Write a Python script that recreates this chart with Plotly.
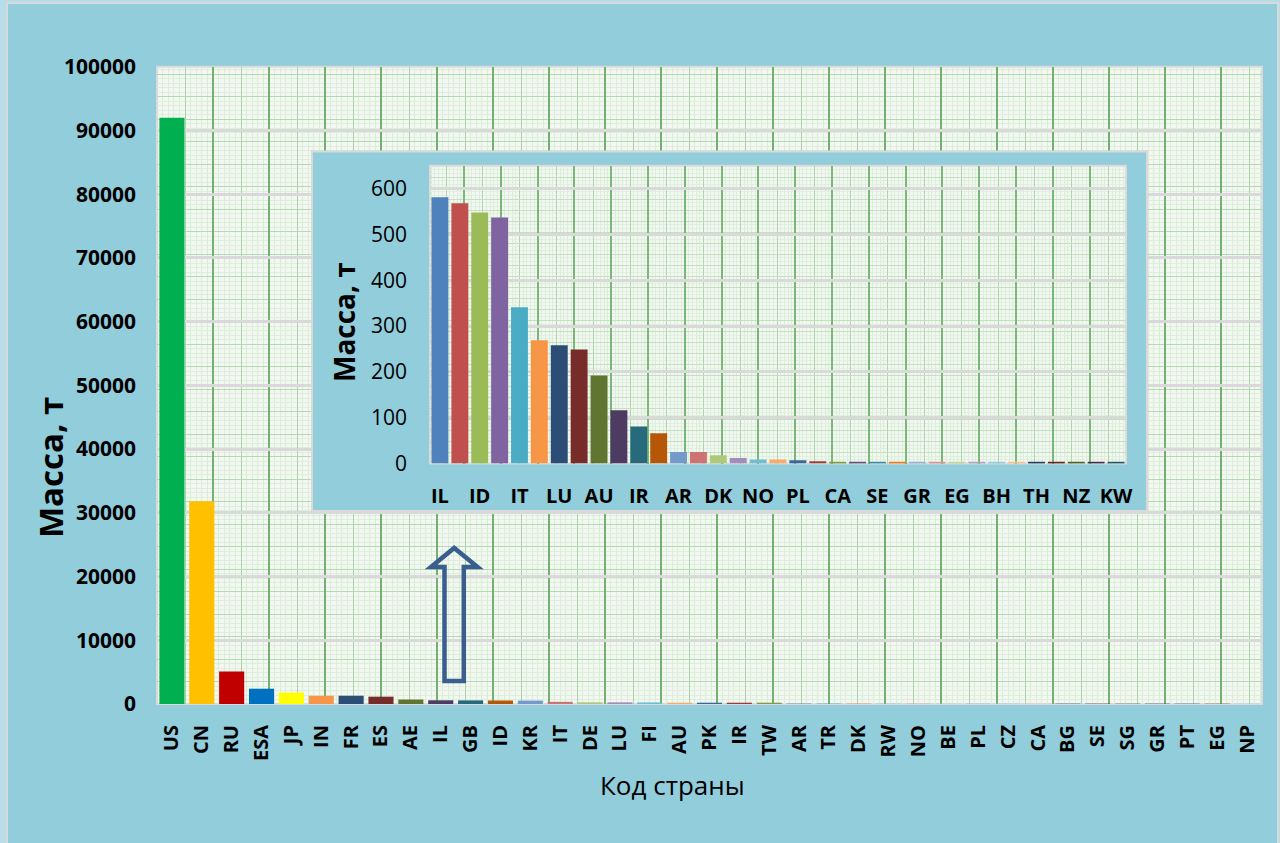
import plotly.graph_objects as go

# ---------------------------------------------------------------- data
country_codes = ["US", "CN", "RU", "ESA", "JP", "IN", "FR", "ES", "AE", "IL", "GB", "ID",
                 "KR", "IT", "DE", "LU", "FI", "AU", "PK", "IR", "TW", "AR", "TR", "DK",
                 "RW", "NO", "BE", "PL", "CZ", "CA", "BG", "SE", "SG", "GR", "PT", "EG", "NP"]
mass_t = [92000, 31800, 5100, 2400, 1800, 1300, 1300, 1150, 700, 581, 568, 548,
          537, 341, 269, 258, 249, 192, 116, 81, 66, 25, 25, 18,
          12, 9, 9, 7, 5, 3, 3, 3, 3, 3, 2, 2, 2]
mass_ticks = [0, 10000, 20000, 30000, 40000, 50000, 60000, 70000, 80000, 90000, 100000]

# zoomed view: the smaller contributors, from IL onwards
inset_mass_t = [581, 568, 548, 537, 341, 269, 258, 249, 192, 116, 81, 66,
                25, 25, 18, 12, 9, 9, 7, 5, 3, 3, 3, 3,
                3, 2, 2, 2, 2, 2, 2, 2, 2, 2, 2]
inset_tick_labels = ["IL", "ID", "IT", "LU", "AU", "IR", "AR", "DK", "NO",
                     "PL", "CA", "SE", "GR", "EG", "BH", "TH", "NZ", "KW"]
inset_mass_ticks = [0, 100, 200, 300, 400, 500, 600]

# ---------------------------------------------------------------- style
lead_colors = ["#00B050", "#FFC000", "#C00000", "#0070C0", "#FFFF00", "#F79646"]
office_palette = ["#4F81BD", "#C0504D", "#9BBB59", "#8064A2", "#4BACC6", "#F79646",
                  "#2C4D75", "#772C2A", "#5F7530", "#4D3B62", "#276A7C", "#B65708",
                  "#729ACA", "#CD7371", "#AFC97A", "#A18CBC", "#6FBDD1", "#F9AB6B",
                  "#3A679C", "#9F3B38", "#7E9C40", "#664F83", "#358EA6", "#F07A17",
                  "#95B3D7", "#D99694", "#C3D69B", "#B3A2C7", "#93CDDD", "#FAC090",
                  "#254061", "#632523", "#4F6228", "#403152", "#215968", "#984807",
                  "#B9CDE5"]
main_colors = lead_colors + office_palette[len(lead_colors):len(country_codes)]
inset_colors = office_palette[:len(inset_mass_t)]

FONT = "Open Sans"
CHART_BG = "#92CDDC"
OUTER_BG = "#B7DEE8"
PAPER_GRID_BG = "#F2F8F1"
FRAME_LINE = "#D9D9D9"
GRID_GRAY = "#D9D9D9"

W, H = 1280, 843


def px(x):
    return x / W


def py(y):
    return 1 - y / H


# plot areas in pixels (left, right, top, bottom)
MX0, MX1, MY0, MY1 = 157, 1262, 66.7, 704
FX0, FX1, FY0, FY1 = 311, 1148, 150.5, 512
IX0, IX1, IY0, IY1 = 430, 1126, 165.7, 463.5


def hidden_axis(**kw):
    base = dict(showticklabels=False, ticks="", showline=False, zeroline=False,
                automargin=False, fixedrange=True)
    base.update(kw)
    return base


def paper_grid_axis(overlay, anchor, span, step, color, width, tick0=0,
                    minor_step=None, minor_color=None):
    ax = hidden_axis(overlaying=overlay, anchor=anchor, range=[0, span],
                     tickmode="linear", tick0=tick0, dtick=step,
                     showgrid=True, gridcolor=color, gridwidth=width)
    if minor_step:
        ax["minor"] = dict(tickmode="linear", tick0=tick0, dtick=minor_step,
                           showgrid=True, gridcolor=minor_color, gridwidth=1, ticks="")
    return ax


def empty(xa, ya):
    return go.Scatter(x=[], y=[], xaxis=xa, yaxis=ya, showlegend=False,
                      hoverinfo="skip", mode="markers")


fig = go.Figure()

# main chart
fig.add_trace(go.Bar(x=country_codes, y=mass_t, marker=dict(color=main_colors, line_width=0),
                     width=0.84, xaxis="x", yaxis="y", showlegend=False))
fig.add_trace(empty("x4", "y4"))
fig.add_trace(empty("x5", "y6"))
# inset frame
fig.add_trace(empty("x2", "y2"))
# inset chart
fig.add_trace(go.Bar(x=list(range(len(inset_mass_t))), y=inset_mass_t,
                     marker=dict(color=inset_colors, line_width=0),
                     width=0.85, xaxis="x3", yaxis="y3", showlegend=False))
fig.add_trace(empty("x6", "y7"))
fig.add_trace(empty("x7", "y8"))

main_w, main_h = MX1 - MX0, MY1 - MY0
ins_w, ins_h = IX1 - IX0, IY1 - IY0

layout = dict(
    width=W, height=H, margin=dict(l=0, r=0, t=0, b=0), autosize=False,
    template="none", showlegend=False,
    paper_bgcolor=OUTER_BG, plot_bgcolor="rgba(0,0,0,0)",
    font=dict(family=FONT, color="#000000"),
    xaxis=dict(domain=[px(MX0), px(MX1)], anchor="y", type="category",
               range=[-0.5, len(country_codes) - 0.5], tickangle=-90,
               tickfont=dict(family=FONT, size=20, weight="bold", color="#000000"),
               showgrid=False, showline=False, zeroline=False, ticks="",
               ticklabelstandoff=16, automargin=False, fixedrange=True),
    yaxis=dict(domain=[py(MY1), py(MY0)], anchor="x", range=[0, 100000],
               tickmode="array", tickvals=mass_ticks, tickformat="d",
               tickfont=dict(family=FONT, size=21, weight="bold", color="#000000"),
               showgrid=False, showline=False, zeroline=False, ticks="",
               ticklabelstandoff=20, automargin=False, fixedrange=True),
    # graph-paper texture of the main plot area
    xaxis4=paper_grid_axis("x", "y", main_w, 28, "#AAD3A7", 1.2,
                           minor_step=5.6, minor_color="#D9EDD7"),
    yaxis4=paper_grid_axis("y", "x", main_h, 22.5, "#B5D9B2", 1.1,
                           minor_step=4.5, minor_color="#DDEFDB"),
    xaxis5=paper_grid_axis("x", "y", main_w, 56, "#74B170", 1.7, tick0=56),
    yaxis6=hidden_axis(overlaying="y", anchor="x", range=[0, 100000], tickmode="array",
                       tickvals=mass_ticks[1:-1], showgrid=True, gridcolor=GRID_GRAY,
                       gridwidth=3),
    # inset frame
    xaxis2=hidden_axis(domain=[px(FX0), px(FX1)], anchor="y2", range=[0, 1], visible=False),
    yaxis2=hidden_axis(domain=[py(FY1), py(FY0)], anchor="x2", range=[0, 1], visible=False),
    # inset chart
    xaxis3=dict(domain=[px(IX0), px(IX1)], anchor="y3", range=[-0.5, len(inset_mass_t) - 0.5],
                tickmode="array", tickvals=list(range(0, len(inset_mass_t), 2)),
                ticktext=inset_tick_labels, tickangle=0,
                tickfont=dict(family=FONT, size=20, weight="bold", color="#000000"),
                showgrid=False, showline=False, zeroline=False, ticks="",
                ticklabelstandoff=18, automargin=False, fixedrange=True),
    yaxis3=dict(domain=[py(IY1), py(IY0)], anchor="x3", range=[0, 650],
                tickmode="array", tickvals=inset_mass_ticks,
                tickfont=dict(family=FONT, size=21, color="#000000"),
                showgrid=False, showline=False, zeroline=False, ticks="",
                ticklabelstandoff=22, automargin=False, fixedrange=True),
    xaxis6=paper_grid_axis("x3", "y3", ins_w, 18.4, "#AFD6AC", 1.1, tick0=16,
                           minor_step=3.68, minor_color="#DCEEDA"),
    yaxis7=paper_grid_axis("y3", "x3", ins_h, 11, "#C3E1C0", 1,
                           minor_step=3.67, minor_color="#E0F0DE"),
    xaxis7=paper_grid_axis("x3", "y3", ins_w, 36.8, "#7DB679", 1.6, tick0=34),
    yaxis8=hidden_axis(overlaying="y3", anchor="x3", range=[0, 650], tickmode="array",
                       tickvals=inset_mass_ticks[1:], showgrid=True, gridcolor=GRID_GRAY,
                       gridwidth=3),
)
fig.update_layout(**layout)

shapes = [
    # chart area
    dict(type="rect", xref="paper", yref="paper", x0=px(7), x1=px(1278), y0=-0.02, y1=py(3),
         fillcolor=CHART_BG, line=dict(color=FRAME_LINE, width=2), layer="below"),
    # main plot area
    dict(type="rect", xref="paper", yref="paper", x0=px(MX0), x1=px(MX1), y0=py(MY1), y1=py(MY0),
         fillcolor=PAPER_GRID_BG, line=dict(color=FRAME_LINE, width=2), layer="below"),
    # inset frame, drawn inside its own subplot so it covers the main plot
    dict(type="rect", xref="x2", yref="y2", x0=0, x1=1, y0=0, y1=1,
         fillcolor=CHART_BG, line=dict(color=FRAME_LINE, width=4), layer="below"),
    dict(type="rect", xref="x2", yref="y2",
         x0=(IX0 - FX0) / (FX1 - FX0), x1=(IX1 - FX0) / (FX1 - FX0),
         y0=(FY1 - IY1) / (FY1 - FY0), y1=(FY1 - IY0) / (FY1 - FY0),
         fillcolor=PAPER_GRID_BG, line=dict(color=FRAME_LINE, width=2), layer="below"),
]

# hollow block arrow pointing up to the inset
arrow_pts = [(444.5, 681), (444.5, 567), (431, 567), (454.2, 548),
             (477.5, 567), (463.8, 567), (463.8, 681)]
arrow_path = "M " + " L ".join(f"{px(x):.5f},{py(y):.5f}" for x, y in arrow_pts) + " Z"
shapes.append(dict(type="path", xref="paper", yref="paper", path=arrow_path,
                   line=dict(color="#3A5F8E", width=4.5), fillcolor="rgba(0,0,0,0)",
                   layer="above"))
fig.update_layout(shapes=shapes)

annotations = [
    dict(text="Масса, т", x=px(50), y=py(468), xref="paper", yref="paper",
         textangle=-90, showarrow=False, xanchor="center", yanchor="middle",
         font=dict(family=FONT, size=33, weight="bold", color="#000000")),
    dict(text="Код страны", x=px(672), y=py(785), xref="paper", yref="paper",
         showarrow=False, xanchor="center", yanchor="middle",
         font=dict(family=FONT, size=26, color="#000000")),
    dict(text="Масса, т", x=px(344), y=py(322), xref="paper", yref="paper",
         textangle=-90, showarrow=False, xanchor="center", yanchor="middle",
         font=dict(family=FONT, size=28, weight="bold", color="#000000")),
]
fig.update_layout(annotations=annotations)

fig.write_html("out.html")
